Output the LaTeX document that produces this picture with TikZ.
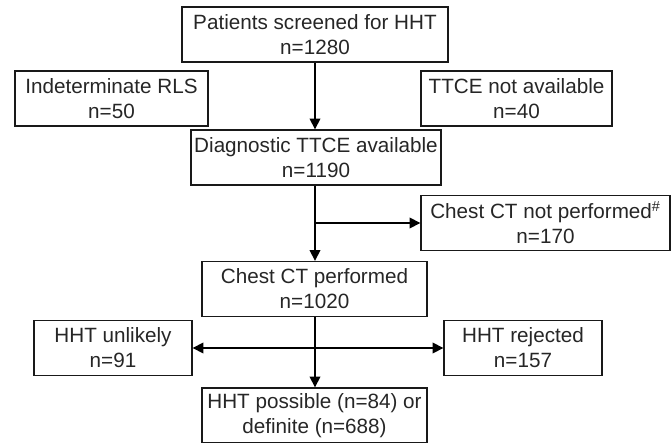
\documentclass[tikz,border=0pt]{standalone}
\usepackage{fontspec}
\setmainfont{Liberation Sans}
\usetikzlibrary{arrows.meta}

\begin{document}
\begin{tikzpicture}[
    x=0.75pt, y=-0.75pt,
    box/.style={draw=black!90, line width=1pt, align=center, inner sep=0pt, text=black!85,
                minimum height=41.25pt, font=\fontsize{15.5}{18.75}\selectfont,
                execute at begin node={\rule{0pt}{14pt}}},
    flow/.style={line width=1pt, -{Triangle[length=8pt, width=8pt]}},
    both/.style={line width=1pt, {Triangle[length=8pt, width=8pt]}-{Triangle[length=8pt, width=8pt]}}
]

  % Define variables (pixel grid of the chart)
  \def\midX{315}      % main column
  \def\sideY{98.5}    % row of the first side boxes
  \def\lowY{348}      % row of the last side boxes

  \useasboundingbox (0,0) rectangle (672,443);

  % Main column
  \node[box, minimum width=199.5pt] (screen) at (\midX,34.5) {Patients screened for HHT\\n=1280};
  \node[box, minimum width=187.5pt] (diag) at (316,157.5) {Diagnostic TTCE available\\n=1190};
  \node[box, minimum width=168.75pt] (ct) at (314.5,289) {Chest CT performed\\n=1020};
  \node[box, minimum width=168.75pt] (final) at (314.5,415.5) {HHT possible (n=84) or\\definite (n=688)};

  % Side boxes
  \node[box, minimum width=144.75pt] (indet) at (111.5,\sideY) {Indeterminate RLS\\n=50};
  \node[box, minimum width=143.25pt] (notavail) at (516.5,\sideY) {TTCE not available\\n=40};
  \node[box, minimum width=186.75pt] (noct) at (545.5,223) {Chest CT not performed\textsuperscript{\#}\\n=170};
  \node[box, minimum width=118.5pt] (unlikely) at (113,\lowY) {HHT unlikely\\n=91};
  \node[box, minimum width=118.5pt] (rejected) at (523,\lowY) {HHT rejected\\n=157};

  % Connect the boxes
  \draw[flow] (screen) -- (screen.south |- diag.north);
  \draw[flow] (diag.south -| screen.south) -- (screen.south |- ct.north);
  \draw[flow] (screen.south |- noct.west) -- (noct.west);
  \draw[flow] (ct.south -| screen.south) -- (screen.south |- final.north);
  \draw[both] (unlikely.east) -- (rejected.west);

\end{tikzpicture}
\end{document}
